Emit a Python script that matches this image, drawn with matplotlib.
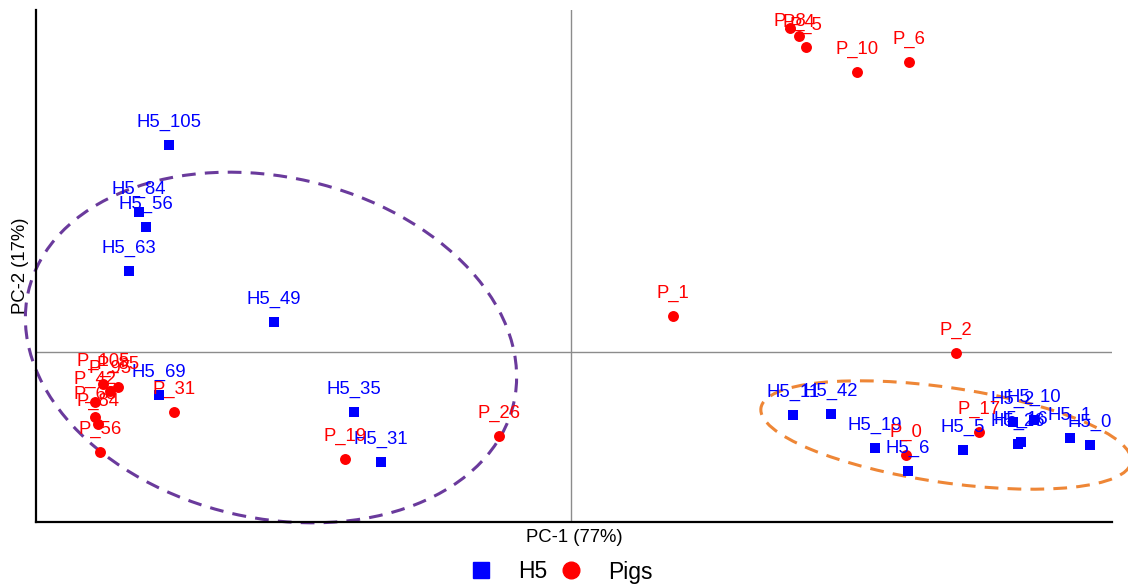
import matplotlib
matplotlib.use("Agg")
import matplotlib.pyplot as plt
from matplotlib.patches import Ellipse
from matplotlib.lines import Line2D

plt.rcParams['font.family'] = ['Liberation Sans', 'DejaVu Sans']

# PCA scores, H5 samples
h5_names = ['H5_105', 'H5_84', 'H5_56', 'H5_63', 'H5_49', 'H5_69', 'H5_35', 'H5_31',
            'H5_11', 'H5_42', 'H5_19', 'H5_6', 'H5_5', 'H5_2', 'H5_10', 'H5_26',
            'H5_16', 'H5_1', 'H5_0']
h5_pc1 = [-4.02, -4.32, -4.25, -4.42, -2.97, -4.12, -2.17, -1.90,
          2.22, 2.60, 3.04, 3.37, 3.92, 4.42, 4.63, 4.47, 4.50, 4.99, 5.19]
h5_pc2 = [2.07, 1.40, 1.25, 0.81, 0.30, -0.43, -0.60, -1.10,
          -0.63, -0.62, -0.96, -1.19, -0.98, -0.70, -0.68, -0.92, -0.90, -0.86, -0.93]

# PCA scores, pig samples
pig_names = ['P_8', 'P_4', 'P_5', 'P_10', 'P_6', 'P_1', 'P_2', 'P_17', 'P_0',
             'P_26', 'P_19', 'P_31', 'P_105', 'P_85', 'P_95', 'P_42', 'P_63',
             'P_84', 'P_56']
pig_pc1 = [2.19, 2.28, 2.35, 2.86, 3.38, 1.02, 3.85, 4.08, 3.35,
           -0.72, -2.26, -3.97, -4.68, -4.53, -4.61, -4.76, -4.76, -4.73, -4.71]
pig_pc2 = [3.24, 3.16, 3.05, 2.80, 2.90, 0.36, -0.01, -0.80, -1.03,
           -0.84, -1.07, -0.60, -0.32, -0.35, -0.39, -0.50, -0.65, -0.72, -1.00]

# cluster ellipses: centre, full width/height, angle (deg)
clusters = ['left', 'right']
ell_center = [(-3.00, 0.045), (3.75, -0.83)]
ell_width = [4.98, 3.74]
ell_height = [3.41, 0.95]
ell_angle = [-13, -8.3]
ell_color = ['#6A3A9C', '#EE8636']

# labels near the top edge are kept inside the panel
label_shift = {'P_8': 4.5, 'P_4': 10, 'P_5': 15.5}

fig = plt.figure(figsize=(11.28, 5.86), dpi=100)
ax = fig.add_axes([36 / 1128, 1 - 522 / 586, (1112 - 36) / 1128, 512 / 586])

ax.axhline(0, color='#8c8c8c', lw=1, zorder=1)
ax.axvline(0, color='#8c8c8c', lw=1, zorder=1)

for i in range(len(clusters)):
    e = Ellipse(ell_center[i], ell_width[i], ell_height[i], angle=ell_angle[i],
                fill=False, edgecolor=ell_color[i], lw=2.2, ls=(0, (4.5, 3)),
                zorder=2, clip_on=False)
    ax.add_patch(e)

ax.scatter(h5_pc1, h5_pc2, marker='s', s=60, color='#0000FF', zorder=3, linewidths=0)
ax.scatter(pig_pc1, pig_pc2, marker='o', s=62, color='#FF0000', zorder=3, linewidths=0)

for n, x, y in zip(h5_names, h5_pc1, h5_pc2):
    ax.annotate(n, (x, y), xytext=(0, 16), textcoords='offset points',
                ha='center', va='center', color='#0000FF', fontsize=13.3, zorder=4)
for n, x, y in zip(pig_names, pig_pc1, pig_pc2):
    ax.annotate(n, (x, y), xytext=(0, label_shift.get(n, 16)), textcoords='offset points',
                ha='center', va='center', color='#FF0000', fontsize=13.3, zorder=4)

ax.set_xlim(-5.35, 5.41)
ax.set_ylim(-1.70, 3.42)
ax.set_xticks([])
ax.set_yticks([])
for s in ['top', 'right']:
    ax.spines[s].set_visible(False)
for s in ['left', 'bottom']:
    ax.spines[s].set_linewidth(1.6)
ax.set_xlabel('PC-1 (77%)', fontsize=13.3, labelpad=5)
ax.set_ylabel('PC-2 (17%)', fontsize=13.3, labelpad=5)

handles = [Line2D([], [], marker='s', color='#0000FF', ls='', markersize=11),
           Line2D([], [], marker='o', color='#FF0000', ls='', markersize=12)]
fig.legend(handles, ['H5', 'Pigs'], loc='center', ncol=2, frameon=False,
           bbox_to_anchor=(561 / 1128, 1 - 572 / 586), fontsize=16.5,
           handlelength=1.0, handletextpad=1.1, columnspacing=0.55)

fig.savefig('out.png', dpi=100)
